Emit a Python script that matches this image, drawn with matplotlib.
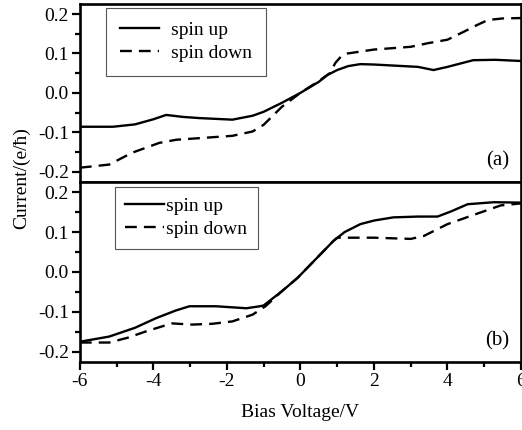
import matplotlib
matplotlib.use("Agg")
import matplotlib.pyplot as plt

# Panel (a)
a_up_x = [-6, -5.1, -4.5, -4.0, -3.65, -3.2, -2.75, -1.85, -1.3, -1.0, -0.5, 0.0, 0.5, 0.73, 1.0, 1.3, 1.63, 2.0, 2.6, 3.2, 3.62, 4.0, 4.7, 5.3, 6.0]
a_up_y = [-0.086, -0.086, -0.080, -0.067, -0.056, -0.061, -0.064, -0.068, -0.058, -0.048, -0.025, 0.000, 0.028, 0.045, 0.058, 0.068, 0.073, 0.072, 0.069, 0.066, 0.058, 0.066, 0.083, 0.084, 0.081]
a_dn_x = [-6, -5.2, -4.58, -3.84, -3.38, -2.6, -1.85, -1.3, -1.0, -0.5, 0.0, 0.5, 0.8, 0.95, 1.1, 1.28, 2.0, 3.0, 3.46, 4.0, 4.44, 4.8, 5.1, 5.5, 6.0]
a_dn_y = [-0.190, -0.182, -0.152, -0.127, -0.119, -0.114, -0.109, -0.098, -0.081, -0.035, 0.000, 0.030, 0.050, 0.076, 0.092, 0.100, 0.110, 0.117, 0.126, 0.135, 0.155, 0.172, 0.185, 0.189, 0.190]

# Panel (b)
b_up_x = [-6, -5.2, -4.5, -3.93, -3.4, -3.02, -2.3, -1.47, -1.1, -1.0, -0.5, -0.08, 0.5, 0.9, 1.2, 1.63, 2.0, 2.53, 3.2, 3.73, 4.1, 4.55, 5.26, 6.0]
b_up_y = [-0.175, -0.162, -0.140, -0.116, -0.097, -0.086, -0.086, -0.091, -0.086, -0.084, -0.048, -0.015, 0.040, 0.078, 0.100, 0.120, 0.129, 0.137, 0.139, 0.139, 0.152, 0.170, 0.175, 0.174]
b_dn_x = [-6, -5.2, -4.7, -4.2, -3.5, -2.95, -2.4, -1.85, -1.3, -0.95, -0.5, -0.08, 0.5, 0.9, 1.0, 2.0, 3.0, 3.35, 4.0, 4.8, 5.45, 6.0]
b_dn_y = [-0.177, -0.177, -0.165, -0.149, -0.129, -0.132, -0.130, -0.124, -0.107, -0.086, -0.048, -0.015, 0.040, 0.078, 0.086, 0.086, 0.083, 0.090, 0.120, 0.146, 0.167, 0.172]

yticks = [-0.2, -0.1, 0.0, 0.1, 0.2]
ytick_labels = ["-0.2", "-0.1", "0.0", "0.1", "0.2"]
xticks = [-6, -4, -2, 0, 2, 4, 6]
xtick_labels = ["-6", "-4", "-2", "0", "2", "4", "6"]

plt.rcParams['font.family'] = ['Liberation Serif', 'DejaVu Serif']

fig = plt.figure(figsize=(5.22, 4.30), dpi=100)
left, right = 0.153, 0.998
ax1 = fig.add_axes([left, 0.577, right - left, 0.991 - 0.577])
ax2 = fig.add_axes([left, 0.158, right - left, 0.577 - 0.158])

dash = (0, (5, 3))
panels = [
    (ax1, a_up_x, a_up_y, a_dn_x, a_dn_y, "(a)", (0.06, 0.978), 0.65, 0.7),
    (ax2, b_up_x, b_up_y, b_dn_x, b_dn_y, "(b)", (0.079, 0.972), 0.1, 0.55),
]
for ax, ux, uy, dx, dy, lab, anchor, htp, bp in panels:
    ax.plot(ux, uy, color='black', lw=1.7, label='spin up')
    ax.plot(dx, dy, color='black', lw=1.7, linestyle=dash, label='spin down')
    ax.set_xlim(-6, 6)
    ax.set_ylim(-0.226, 0.226)
    ax.set_yticks(yticks)
    ax.set_yticklabels(ytick_labels)
    ax.set_yticks([-0.15, -0.05, 0.05, 0.15], minor=True)
    ax.set_xticks(xticks)
    ax.set_xticks([-5, -3, -1, 1, 3, 5], minor=True)
    for s in ax.spines.values():
        s.set_linewidth(1.9)
    ax.tick_params(axis='both', which='major', direction='out', length=6, width=1.6,
                   labelsize=14, pad=2)
    ax.tick_params(axis='both', which='minor', direction='out', length=3.5, width=1.6)
    ax.text(0.973, 0.118, lab, transform=ax.transAxes, ha='right', va='center', fontsize=15)
    leg = ax.legend(loc='upper left', bbox_to_anchor=anchor, borderaxespad=0, fontsize=14,
                    frameon=True, fancybox=False, edgecolor='#555555', framealpha=1,
                    handlelength=2.0, handletextpad=htp, borderpad=bp, labelspacing=0.28)
    leg.get_frame().set_linewidth(0.8)

ax1.tick_params(axis='x', which='both', labelbottom=False, length=0)
ax2.set_xticklabels(xtick_labels)
ax2.set_xlabel("Bias Voltage/V", fontsize=14, labelpad=10)
fig.text(0.042, 0.586, "Current/(e/ħ)", rotation=90, ha='center', va='center', fontsize=14)

fig.savefig("out.png", dpi=100)
